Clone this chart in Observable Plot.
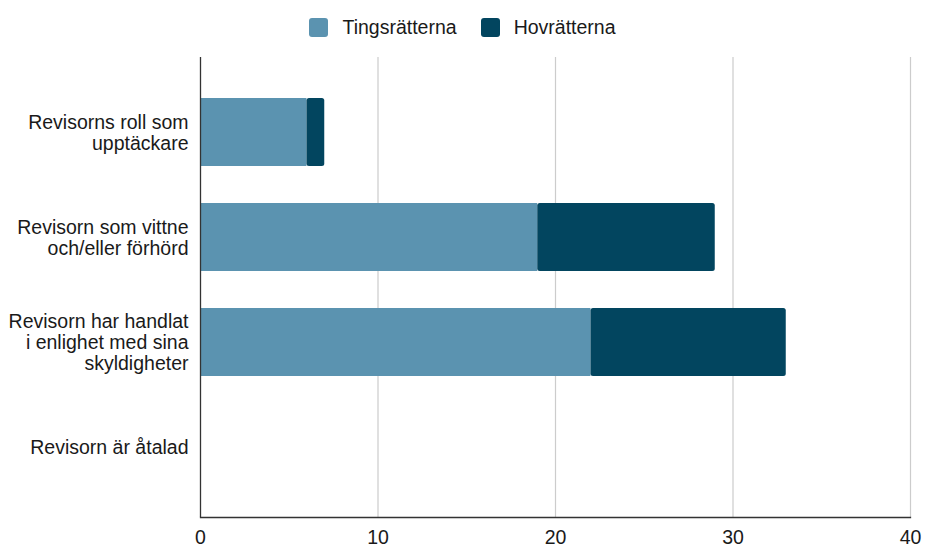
<!DOCTYPE html>
<html>
<head>
<meta charset="utf-8">
<script src="https://cdn.jsdelivr.net/npm/d3@7"></script>
<script src="https://cdn.jsdelivr.net/npm/@observablehq/plot@0.6"></script>
<style>
  html, body { margin: 0; padding: 0; background: #fff; }
  body { width: 925px; font-family: "Liberation Sans", Arial, sans-serif; }
  #legend { height: 50px; display: flex; justify-content: center; align-items: center; padding-top: 4px; box-sizing: border-box; font-size: 19.5px; color: #1a1a1a; }
  .item { display: flex; align-items: center; margin: 0 12px; }
  .sw { width: 19px; height: 19px; border-radius: 3px; margin-right: 14px; }
</style>
</head>
<body>
<div id="legend"></div>
<div id="chart"></div>
<script>
const categories = [
  "Revisorns roll som\nupptäckare",
  "Revisorn som vittne\noch/eller förhörd",
  "Revisorn har handlat\ni enlighet med sina\nskyldigheter",
  "Revisorn är åtalad"
];
const seriesNames = ["Tingsrätterna", "Hovrätterna"];
const seriesColors = ["#5b93b0", "#02455f"];
const tingsratterna = [6, 19, 22, 0];
const hovratterna = [1, 10, 11, 0];
const xTicks = [0, 10, 20, 30, 40];

const legend = document.getElementById("legend");
seriesNames.forEach((name, i) => {
  const it = document.createElement("div");
  it.className = "item";
  const sw = document.createElement("div");
  sw.className = "sw";
  sw.style.background = seriesColors[i];
  const t = document.createElement("span");
  t.textContent = name;
  it.appendChild(sw); it.appendChild(t);
  legend.appendChild(it);
});

const rows = categories.map((c, i) => ({
  category: c,
  tings: tingsratterna[i],
  hov: hovratterna[i],
  total: tingsratterna[i] + hovratterna[i]
}));

const chart = Plot.plot({
  width: 925,
  height: 497,
  marginLeft: 200,
  marginRight: 15,
  marginTop: 7,
  marginBottom: 30,
  style: { fontFamily: '"Liberation Sans", Arial, sans-serif', fontSize: "19.5px", color: "#1a1a1a", background: "#fff", overflow: "visible" },
  x: { domain: [0, 40], ticks: xTicks },
  y: { domain: categories, range: [47, 432.5], paddingInner: 0.357, paddingOuter: 0 },
  marks: [
    Plot.gridX(xTicks.filter(d => d > 0), { stroke: "#cccccc", strokeOpacity: 1, strokeWidth: 1.2 }),
    Plot.barX(rows.filter(d => d.tings > 0), { y: "category", x1: 0, x2: "tings", fill: seriesColors[0] }),
    Plot.barX(rows.filter(d => d.hov > 0), { y: "category", x1: "tings", x2: "total", fill: seriesColors[1], rx: 2.5 }),
    Plot.ruleX([0], { stroke: "#333", strokeWidth: 1.3 }),
    Plot.frame({ anchor: "bottom", stroke: "#333", strokeWidth: 1.3 }),
    Plot.axisX({ ticks: xTicks, tickSize: 0, tickPadding: 13, fill: "#1a1a1a", fontSize: 19.5 }),
    Plot.axisY({ tickSize: 0, tickPadding: 12, fill: "#1a1a1a", lineHeight: 1.08, fontSize: 19.5, label: null })
  ]
});
document.getElementById("chart").appendChild(chart);
</script>
</body>
</html>
